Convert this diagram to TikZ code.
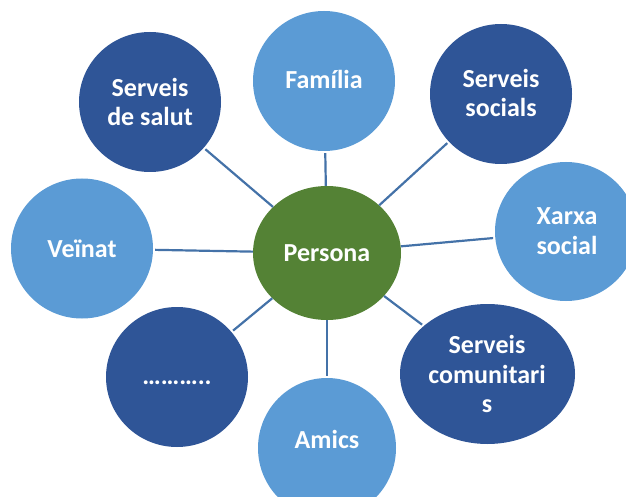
\documentclass[tikz,border=0pt]{standalone}
\usepackage{fontspec}
\setmainfont{Carlito}
\usetikzlibrary{shapes.geometric}
\definecolor{darkb}{HTML}{2F5597}
\definecolor{lightb}{HTML}{5B9BD5}
\definecolor{grn}{HTML}{548235}
\definecolor{connc}{HTML}{4472A8}
\tikzset{
  bub/.style={ellipse, inner sep=0pt, minimum width=142pt, minimum height=140pt},
  dk/.style={bub, fill=darkb},
  lt/.style={bub, fill=lightb},
  lbl/.style={text=white, font=\fontsize{26}{29.5}\selectfont\bfseries, align=center, inner sep=0pt},
  lbl1/.style={lbl, text height=18pt},
  link/.style={draw=connc, line width=2.2pt, shorten >=2pt}
}
\begin{document}
\begin{tikzpicture}[x=1pt,y=-1pt]
\useasboundingbox (0,0) rectangle (626,497);
% circles
\node[ellipse, fill=grn, inner sep=0pt, minimum width=148pt, minimum height=134pt] (persona) at (327,253) {};
\node[dk] (salut) at (150,102) {};
\node[lt] (familia) at (324,81) {};
\node[dk] (socials) at (501,94) {};
\node[lt, minimum height=139pt] (xarxa) at (566,231.5) {};
\node[lt] (veinat) at (82,248.5) {};
\node[dk] (dots) at (177,377) {};
\node[lt, minimum width=138pt] (amics) at (327,448) {};
\node[dk, minimum width=175pt] (comun) at (487.5,374) {};
% connectors
\draw[link] (persona) -- (familia);
\draw[link] (persona) -- (salut);
\draw[link] (persona) -- (socials);
\draw[link] (persona) -- (xarxa);
\draw[link] (persona) -- (veinat);
\draw[link] (persona) -- (dots);
\draw[link] (persona) -- (comun);
\draw[link] (persona) -- (amics);
% labels
\node[lbl1] (tpersona) at (327,253) {Persona};
\node[lbl] (tsalut) at (150,102) {Serveis\\de salut};
\node[lbl1] (tfamilia) at (324,80) {Família};
\node[lbl] (tsocials) at (501,93) {Serveis\\socials};
\node[lbl] (txarxa) at (567,231) {Xarxa\\social};
\node[lbl1] (tveinat) at (82,249) {Veïnat};
\node[lbl1] (tdots) at (177,376) {………..};
\node[lbl1] (tamics) at (327,440) {Amics};
\node[lbl] (tcomun) at (487,374) {Serveis\\comunitari\\s};
\end{tikzpicture}
\end{document}
